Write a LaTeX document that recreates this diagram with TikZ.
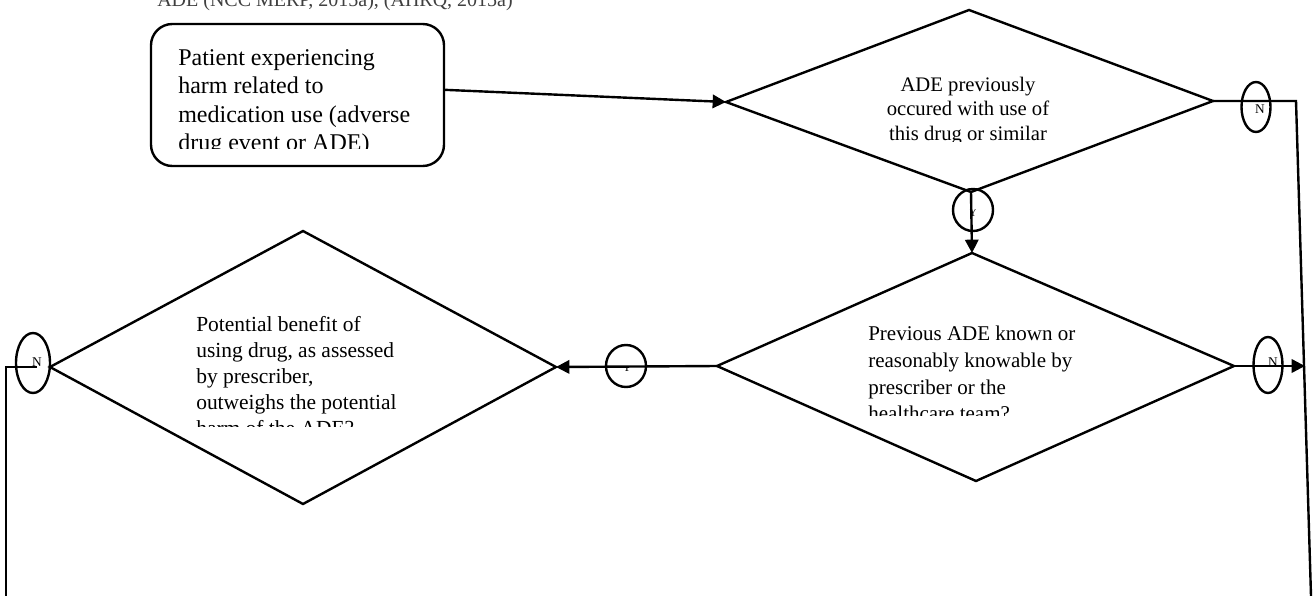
\documentclass[tikz,border=0pt]{standalone}
\usepackage{fontspec}
\setmainfont{Liberation Serif}
\usetikzlibrary{arrows.meta,shapes.geometric}
\begin{document}
\begin{tikzpicture}[x=0.75pt,y=-0.75pt,
  flow/.style={line width=1.8pt},
  arrowline/.style={line width=1.8pt,-{Triangle[length=10pt,width=10pt]}},
  shapeline/.style={line width=1.8pt,line join=miter},
  ring/.style={draw,ellipse,line width=1.8pt,inner sep=0pt},
  ringtext/.style={inner sep=0pt,anchor=center,font=\fontsize{10}{12}\selectfont},
  yestext/.style={inner sep=0pt,anchor=base,font=\fontsize{9}{10}\selectfont}]

\useasboundingbox (0,0) rectangle (1314,596);
\fill[white] (0,0) rectangle (1314,596);

% source line running off the top edge
\node[anchor=base west,inner sep=0pt,font=\fontsize{15}{18}\selectfont,text=black!75] (srcnote) at (157,7)
  {ADE (NCC MERP, 2015a), (AHRQ, 2015a)};

% start box
\node[draw,line width=1.8pt,rounded corners=16pt,minimum width=219.75pt,
      minimum height=106.5pt,inner sep=0pt] (box) at (297.5,95) {};
\begin{scope}
  \clip (151,24) rectangle (444,148);
  \node[anchor=north west,inner sep=0pt,align=left,font=\fontsize{18}{21.4}\selectfont]
    (boxtext) at (178,45)
    {\strut Patient experiencing\\harm related to\\medication use (adverse\\drug event or ADE)};
\end{scope}

% decision 1
\coordinate (d1w) at (726,102);
\coordinate (d1n) at (969,10);
\coordinate (d1e) at (1213,101);
\coordinate (d1s) at (971,192);
\draw[shapeline] (d1w) -- (d1n) -- (d1e) -- (d1s) -- cycle;
\begin{scope}
  \clip (726,10) rectangle (1213,141);
  \node[anchor=north,inner sep=0pt,align=center,font=\fontsize{15.5}{18.4}\selectfont]
    (d1text) at (968,73.8)
    {\strut ADE previously\\occured with use of\\this drug or similar};
\end{scope}

% decision 2
\coordinate (d2w) at (717,366);
\coordinate (d2n) at (972,253);
\coordinate (d2e) at (1234,366);
\coordinate (d2s) at (976,481);
\draw[shapeline] (d2w) -- (d2n) -- (d2e) -- (d2s) -- cycle;
\begin{scope}
  \clip (717,253) rectangle (1234,415);
  \node[anchor=north west,inner sep=0pt,align=left,font=\fontsize{15.75}{19.9}\selectfont]
    (d2text) at (868,322.1)
    {\strut Previous ADE known or\\reasonably knowable by\\prescriber or the\\healthcare team?};
\end{scope}

% decision 3
\coordinate (d3w) at (50,367);
\coordinate (d3n) at (303,231);
\coordinate (d3e) at (556,367);
\coordinate (d3s) at (303,504);
\draw[shapeline] (d3w) -- (d3n) -- (d3e) -- (d3s) -- cycle;
\begin{scope}
  \clip (50,231) rectangle (556,426.5);
  \node[anchor=north west,inner sep=0pt,align=left,font=\fontsize{16.1}{19.5}\selectfont]
    (d3text) at (196,313.3)
    {\strut Potential benefit of\\using drug, as assessed\\by prescriber,\\outweighs the potential\\harm of the ADE?};
\end{scope}

% routing points
\coordinate (rtop) at (1296,101);
\coordinate (rbot) at (1311,596);
\coordinate (rhit) at (1305,366);
\coordinate (lout) at (37,367);
\coordinate (ltop) at (6,367);
\coordinate (lbot) at (6,596);

% connectors
\draw[arrowline] (box.2) -- (d1w);
\draw[arrowline] (d1s) -- (d2n);
\draw[flow] (d1e) -- (rtop) -- (rbot);
\draw[arrowline] (d2e) -- (rhit);
\draw[arrowline] (d2w) -- (d3e);
\draw[flow] (lout) -- (ltop) -- (lbot);

% answer rings
\node[ring,minimum width=30pt,minimum height=31.5pt] (y1) at (973,210) {};
\begin{scope}
  \clip (953,209) rectangle (993,232);
  \node[yestext] (y1t) at (973,216) {Y};
\end{scope}
\node[ring,minimum width=30pt,minimum height=31.5pt] (y2) at (626,366) {};
\begin{scope}
  \clip (606,366) rectangle (646,387);
  \node[yestext] (y2t) at (627,371) {Y};
\end{scope}
\node[ring,minimum width=21.75pt,minimum height=37.5pt] (n1) at (1256,107) {};
\node[ringtext] (n1t) at (1260,109) {N};
\node[ring,minimum width=21.75pt,minimum height=42pt] (n2) at (1268,365) {};
\node[ringtext] (n2t) at (1273,362) {N};
\node[ring,minimum width=25.5pt,minimum height=45pt] (n3) at (33,363) {};
\node[ringtext] (n3t) at (37,362) {N};
\end{tikzpicture}
\end{document}
